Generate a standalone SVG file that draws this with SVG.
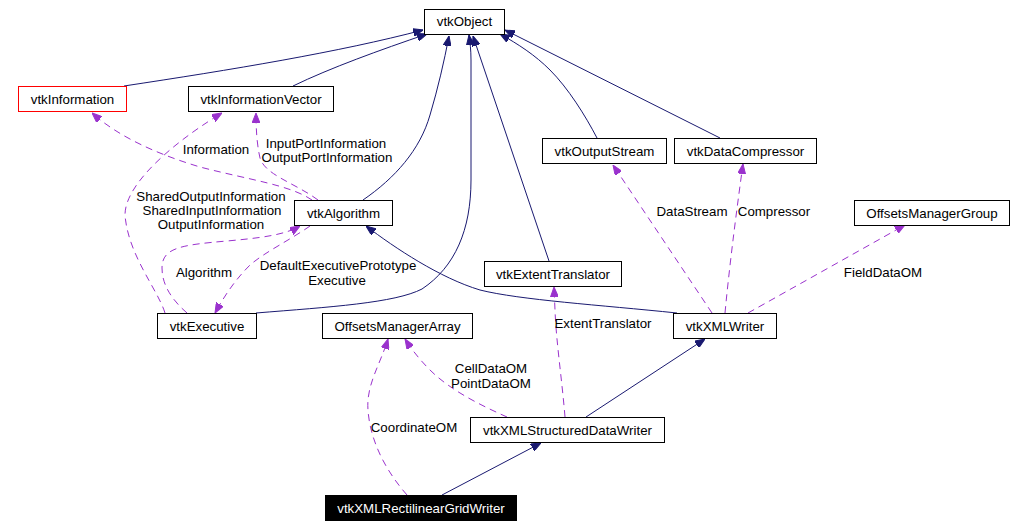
<svg xmlns="http://www.w3.org/2000/svg" width="1019" height="527" viewBox="0 0 1019 527">
<style>
  .node rect { fill: #ffffff; stroke: #000000; stroke-width: 1; }
  .node text { font-family: "Liberation Sans", Arial, sans-serif; font-size: 13.3px; fill: #000000; text-anchor: middle; }
  .node.red rect { stroke: #ff0000; }
  .node.main rect { fill: #000000; }
  .node.main text { fill: #ffffff; }
  .inh { fill: none; stroke: #191970; stroke-width: 1; marker-end: url(#ah-navy); }
  .use { fill: none; stroke: #9a32cd; stroke-width: 1; stroke-dasharray: 7,5; marker-end: url(#ah-purple); }
  .lbl { font-family: "Liberation Sans", Arial, sans-serif; font-size: 13.3px; fill: #000000; text-anchor: middle; }
</style>
<defs>
  <marker id="ah-navy" viewBox="0 0 10 8" refX="10" refY="4" markerWidth="10" markerHeight="8" markerUnits="userSpaceOnUse" orient="auto">
    <path d="M0,0 L10,4 L0,8 z" fill="#191970" stroke="#191970" stroke-width="1"/>
  </marker>
  <marker id="ah-purple" viewBox="0 0 10 8" refX="10" refY="4" markerWidth="10" markerHeight="8" markerUnits="userSpaceOnUse" orient="auto">
    <path d="M0,0 L10,4 L0,8 z" fill="#9a32cd" stroke="#9a32cd" stroke-width="1"/>
  </marker>
</defs>
<rect x="0" y="0" width="1019" height="527" fill="#ffffff"/>

<g id="connectors">
  <!-- inheritance -->
  <path class="inh" d="M124,86 C 230,70 340,52 423,30"/>
  <path class="inh" d="M293,86 C 330,68 380,50 427,34"/>
  <path class="inh" d="M363,200 C 395,178 420,150 430,115 C 438,88 444,62 449,36"/>
  <path class="inh" d="M256,313 C 330,307 395,303 422,289 C 455,267 471,230 471,180 L 471,60 C 471,50 470,42 469,35"/>
  <path class="inh" d="M549,261 L 473,36"/>
  <path class="inh" d="M597,138 C 585,115 568,88 550,70 C 535,55 518,44 500,34"/>
  <path class="inh" d="M720,138 L 505,30"/>
  <path class="inh" d="M677,313 C 600,305 520,300 480,290 C 440,278 395,248 366,226"/>
  <path class="inh" d="M586,417 L 705,339"/>
  <path class="inh" d="M442,495 L 541,443"/>
  <!-- usage -->
  <path class="use" d="M312,200 C 290,185 250,180 200,167 C 160,155 120,138 92,113"/>
  <path class="use" d="M318,200 C 295,183 265,175 260,158 C 257,145 256,130 256,113"/>
  <path class="use" d="M165,313 C 158,290 128,255 125,215 C 125,180 185,135 222,113"/>
  <path class="use" d="M187,313 C 172,300 162,285 162,268 C 162,248 180,245 227,241 C 260,238 285,235 300,226"/>
  <path class="use" d="M310,226 C 290,240 265,252 250,265 C 235,280 225,295 215,313"/>
  <path class="use" d="M712,313 L 613,165"/>
  <path class="use" d="M725,313 C 730,260 738,200 743,164"/>
  <path class="use" d="M748,313 L 905,225"/>
  <path class="use" d="M565,417 C 562,380 556,340 555,310 L 554,287"/>
  <path class="use" d="M507,417 C 480,405 450,390 430,370 C 420,360 412,350 405,339"/>
  <path class="use" d="M407,495 C 385,470 370,440 368,410 C 366,385 380,365 388,339"/>
</g>

<g id="labels">
  <text class="lbl" x="216" y="154">Information</text>
  <text class="lbl" x="326" y="148">InputPortInformation</text>
  <text class="lbl" x="327" y="162">OutputPortInformation</text>
  <text class="lbl" x="211" y="201">SharedOutputInformation</text>
  <text class="lbl" x="212" y="215">SharedInputInformation</text>
  <text class="lbl" x="211" y="229">OutputInformation</text>
  <text class="lbl" x="204" y="276.5">Algorithm</text>
  <text class="lbl" x="338" y="270">DefaultExecutivePrototype</text>
  <text class="lbl" x="337" y="284.5">Executive</text>
  <text class="lbl" x="692" y="215.5">DataStream</text>
  <text class="lbl" x="774" y="215.5">Compressor</text>
  <text class="lbl" x="883" y="276.5">FieldDataOM</text>
  <text class="lbl" x="603" y="328">ExtentTranslator</text>
  <text class="lbl" x="491" y="373">CellDataOM</text>
  <text class="lbl" x="491" y="388">PointDataOM</text>
  <text class="lbl" x="414" y="432">CoordinateOM</text>
</g>

<g id="vtkObject" class="node"><rect x="424.5" y="9.5" width="80" height="25"/><text x="464.5" y="26">vtkObject</text></g>
<g id="vtkInformation" class="node red"><rect x="18.5" y="86.5" width="108" height="25"/><text x="72.5" y="103.5">vtkInformation</text></g>
<g id="vtkInformationVector" class="node"><rect x="188.5" y="86.5" width="145" height="25"/><text x="261" y="103.5">vtkInformationVector</text></g>
<g id="vtkAlgorithm" class="node"><rect x="294.5" y="200.5" width="98" height="25"/><text x="343.5" y="217.5">vtkAlgorithm</text></g>
<g id="vtkOutputStream" class="node"><rect x="542.5" y="138.5" width="124" height="25"/><text x="604.5" y="155.5">vtkOutputStream</text></g>
<g id="vtkDataCompressor" class="node"><rect x="674.5" y="138.5" width="142" height="25"/><text x="745.5" y="155.5">vtkDataCompressor</text></g>
<g id="OffsetsManagerGroup" class="node"><rect x="854.5" y="200.5" width="155" height="25"/><text x="932" y="217.5">OffsetsManagerGroup</text></g>
<g id="vtkExtentTranslator" class="node"><rect x="484.5" y="261.5" width="137" height="25"/><text x="553" y="278.5">vtkExtentTranslator</text></g>
<g id="vtkExecutive" class="node"><rect x="157.5" y="313.5" width="99" height="25"/><text x="207" y="330.5">vtkExecutive</text></g>
<g id="OffsetsManagerArray" class="node"><rect x="322.5" y="313.5" width="150" height="25"/><text x="397.5" y="330.5">OffsetsManagerArray</text></g>
<g id="vtkXMLWriter" class="node"><rect x="673.5" y="313.5" width="103" height="25"/><text x="725" y="330.5">vtkXMLWriter</text></g>
<g id="vtkXMLStructuredDataWriter" class="node"><rect x="470.5" y="417.5" width="194" height="25"/><text x="567.5" y="434.5">vtkXMLStructuredDataWriter</text></g>
<g id="vtkXMLRectilinearGridWriter" class="node main"><rect x="325.5" y="495.5" width="191" height="25"/><text x="421" y="512.5">vtkXMLRectilinearGridWriter</text></g>
</svg>
